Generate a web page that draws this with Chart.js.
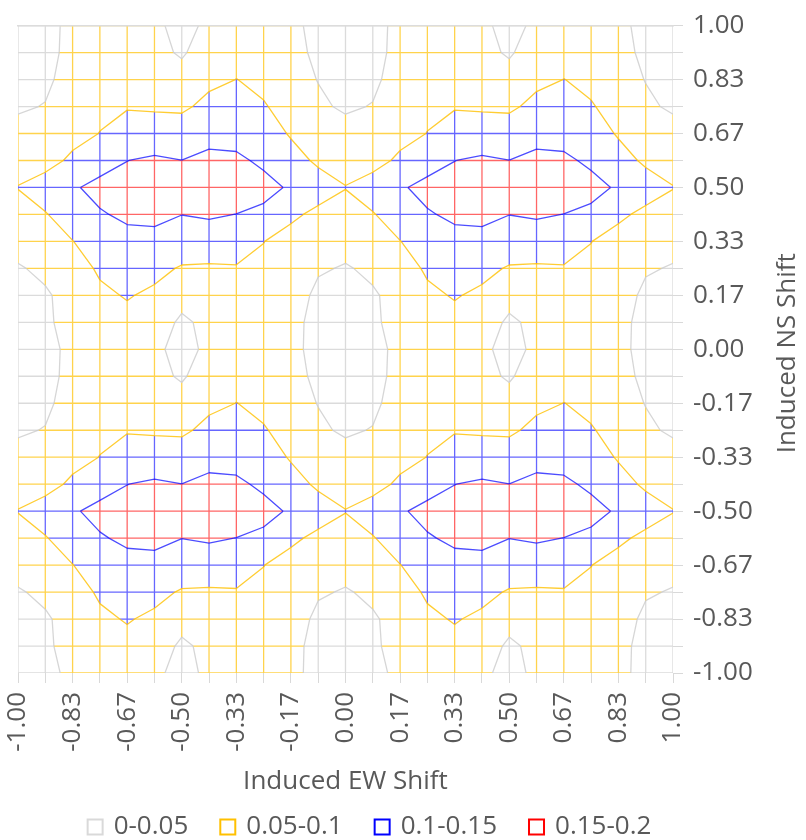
<!DOCTYPE html>
<html>
<head>
<meta charset="utf-8">
<script src="https://cdn.jsdelivr.net/npm/chart.js@4.4.1/dist/chart.umd.min.js"></script>
<style>
  html, body { margin: 0; padding: 0; background: #fff; }
  #wrap { width: 806px; height: 840px; }
</style>
</head>
<body>
<div id="wrap"><canvas id="contour" width="806" height="840"></canvas></div>
<script>
/* ── Data ── */
// EW shift (x), one value per grid column
const ewShift = [-1, -0.9167, -0.8333, -0.75, -0.6667, -0.5833, -0.5, -0.4167, -0.3333, -0.25, -0.1667, -0.0833,
    0, 0.0833, 0.1667, 0.25, 0.3333, 0.4167, 0.5, 0.5833, 0.6667, 0.75, 0.8333, 0.9167, 1];
// NS shift (y), one value per grid row, top row first
const nsShift = [1, 0.9167, 0.8333, 0.75, 0.6667, 0.5833, 0.5, 0.4167, 0.3333, 0.25, 0.1667, 0.0833,
    0, -0.0833, -0.1667, -0.25, -0.3333, -0.4167, -0.5, -0.5833, -0.6667, -0.75, -0.8333, -0.9167, -1];

const ewLabels = ['-1.00', '-0.83', '-0.67', '-0.50', '-0.33', '-0.17', '0.00', '0.17', '0.33', '0.50', '0.67', '0.83', '1.00'];
const nsLabels = ['-1.00', '-0.83', '-0.67', '-0.50', '-0.33', '-0.17', '0.00', '0.17', '0.33', '0.50', '0.67', '0.83', '1.00'];

const bandLimits = [0.05, 0.1, 0.15];
const bandLabels = ['0-0.05', '0.05-0.1', '0.1-0.15', '0.15-0.2'];

// surface values, rows follow nsShift, columns follow ewShift
const shiftGrid = [
    [0.020,0.038,0.060,0.068,0.064,0.055,0.042,0.055,0.064,0.068,0.060,0.038,0.020,0.038,0.060,0.068,0.064,0.055,0.042,0.055,0.064,0.068,0.060,0.038,0.020],
    [0.025,0.0375,0.062,0.070,0.066,0.057,0.047,0.063,0.086,0.075,0.060,0.0436,0.025,0.0375,0.062,0.070,0.066,0.057,0.047,0.063,0.086,0.075,0.060,0.0436,0.025],
    [0.035,0.0406,0.070,0.080,0.078,0.070,0.060,0.088,0.1005,0.092,0.066,0.0488,0.035,0.0406,0.070,0.080,0.078,0.070,0.060,0.088,0.1005,0.092,0.066,0.0488,0.035],
    [0.044,0.052,0.076,0.090,0.096,0.095,0.090,0.115,0.120,0.1025,0.0878,0.0568,0.044,0.052,0.076,0.090,0.096,0.095,0.090,0.115,0.120,0.1025,0.0878,0.0568,0.044],
    [0.065,0.070,0.083,0.101,0.126,0.120,0.130,0.135,0.138,0.125,0.0952,0.078,0.065,0.070,0.083,0.101,0.126,0.120,0.130,0.135,0.138,0.125,0.0952,0.078,0.065],
    [0.087,0.0806,0.110,0.135,0.1495,0.157,0.1503,0.161,0.156,0.144,0.120,0.0914,0.087,0.0806,0.110,0.135,0.1495,0.157,0.1503,0.161,0.156,0.144,0.120,0.0914,0.087],
    [0.101,0.125,0.146,0.160,0.165,0.170,0.175,0.172,0.166,0.160,0.146,0.1245,0.101,0.125,0.146,0.160,0.165,0.170,0.175,0.172,0.166,0.160,0.146,0.1245,0.101],
    [0.087,0.097,0.125,0.147,0.156,0.157,0.1505,0.153,0.1497,0.143,0.110,0.088,0.087,0.097,0.125,0.147,0.156,0.157,0.1505,0.153,0.1497,0.143,0.110,0.088,0.087],
    [0.063,0.078,0.099,0.125,0.140,0.1415,0.128,0.137,0.126,0.1008,0.081,0.070,0.063,0.078,0.099,0.125,0.140,0.1415,0.128,0.137,0.126,0.1008,0.081,0.070,0.063],
    [0.047,0.057,0.081,0.106,0.120,0.112,0.096,0.092,0.096,0.090,0.076,0.0542,0.047,0.057,0.081,0.106,0.120,0.112,0.096,0.092,0.096,0.090,0.076,0.0542,0.047],
    [0.035,0.046,0.062,0.092,0.103,0.092,0.060,0.070,0.078,0.080,0.070,0.041,0.035,0.046,0.062,0.092,0.103,0.092,0.060,0.070,0.078,0.080,0.070,0.041,0.035],
    [0.025,0.044,0.063,0.075,0.088,0.065,0.045,0.057,0.066,0.070,0.062,0.037,0.025,0.044,0.063,0.075,0.088,0.065,0.045,0.057,0.066,0.070,0.062,0.037,0.025],
    [0.020,0.038,0.060,0.068,0.064,0.055,0.042,0.055,0.064,0.068,0.060,0.038,0.020,0.038,0.060,0.068,0.064,0.055,0.042,0.055,0.064,0.068,0.060,0.038,0.020],
    [0.025,0.0375,0.062,0.070,0.066,0.057,0.047,0.063,0.086,0.075,0.060,0.0436,0.025,0.0375,0.062,0.070,0.066,0.057,0.047,0.063,0.086,0.075,0.060,0.0436,0.025],
    [0.035,0.0406,0.070,0.080,0.078,0.070,0.060,0.088,0.1005,0.092,0.066,0.0488,0.035,0.0406,0.070,0.080,0.078,0.070,0.060,0.088,0.1005,0.092,0.066,0.0488,0.035],
    [0.044,0.052,0.076,0.090,0.096,0.095,0.090,0.115,0.120,0.1025,0.0878,0.0568,0.044,0.052,0.076,0.090,0.096,0.095,0.090,0.115,0.120,0.1025,0.0878,0.0568,0.044],
    [0.065,0.070,0.083,0.101,0.126,0.120,0.130,0.135,0.138,0.125,0.0952,0.078,0.065,0.070,0.083,0.101,0.126,0.120,0.130,0.135,0.138,0.125,0.0952,0.078,0.065],
    [0.087,0.0806,0.110,0.135,0.1495,0.157,0.1503,0.161,0.156,0.144,0.120,0.0914,0.087,0.0806,0.110,0.135,0.1495,0.157,0.1503,0.161,0.156,0.144,0.120,0.0914,0.087],
    [0.101,0.125,0.146,0.160,0.165,0.170,0.175,0.172,0.166,0.160,0.146,0.1245,0.101,0.125,0.146,0.160,0.165,0.170,0.175,0.172,0.166,0.160,0.146,0.1245,0.101],
    [0.087,0.097,0.125,0.147,0.156,0.157,0.1505,0.153,0.1497,0.143,0.110,0.088,0.087,0.097,0.125,0.147,0.156,0.157,0.1505,0.153,0.1497,0.143,0.110,0.088,0.087],
    [0.063,0.078,0.099,0.125,0.140,0.1415,0.128,0.137,0.126,0.1008,0.081,0.070,0.063,0.078,0.099,0.125,0.140,0.1415,0.128,0.137,0.126,0.1008,0.081,0.070,0.063],
    [0.047,0.057,0.081,0.106,0.120,0.112,0.096,0.092,0.096,0.090,0.076,0.0542,0.047,0.057,0.081,0.106,0.120,0.112,0.096,0.092,0.096,0.090,0.076,0.0542,0.047],
    [0.035,0.046,0.062,0.092,0.103,0.092,0.060,0.070,0.078,0.080,0.070,0.041,0.035,0.046,0.062,0.092,0.103,0.092,0.060,0.070,0.078,0.080,0.070,0.041,0.035],
    [0.025,0.044,0.063,0.075,0.088,0.065,0.045,0.057,0.066,0.070,0.062,0.037,0.025,0.044,0.063,0.075,0.088,0.065,0.045,0.057,0.066,0.070,0.062,0.037,0.025],
    [0.020,0.038,0.060,0.068,0.064,0.055,0.042,0.055,0.064,0.068,0.060,0.038,0.020,0.038,0.060,0.068,0.064,0.055,0.042,0.055,0.064,0.068,0.060,0.038,0.020]
];

/* ── Styles ── */
const FONT = '"Open Sans", "Noto Sans", sans-serif';
const TEXT = '#595959';
const bandColors = ['#d9d9d9', '#ffc000', '#0000ff', '#ff0000'];
const wireColors = ['rgba(200,200,200,0.65)', 'rgba(255,192,0,0.7)', 'rgba(0,0,255,0.6)', 'rgba(255,0,0,0.6)'];
const lineColors = ['rgba(200,200,200,0.75)', 'rgba(255,192,0,0.8)', 'rgba(0,0,255,0.7)'];

/* ── Build wireframe + contour segments ── */
const bandOf = v => v < bandLimits[0] ? 0 : v < bandLimits[1] ? 1 : v < bandLimits[2] ? 2 : 3;
const gap = { x: null, y: null };
const wire = [[], [], [], []];
const contours = [[], [], []];

// split one grid edge at the band limits and colour each piece
const addEdge = (x1, y1, v1, x2, y2, v2) => {
    const cuts = [0, 1];
    bandLimits.forEach(t => {
        if ((v1 - t) * (v2 - t) < 0) cuts.push((t - v1) / (v2 - v1));
    });
    cuts.sort((a, b) => a - b);
    for (let k = 0; k < cuts.length - 1; k++) {
        const a = cuts[k], b = cuts[k + 1];
        const band = bandOf(v1 + (v2 - v1) * (a + b) / 2);
        wire[band].push(
            { x: x1 + (x2 - x1) * a, y: y1 + (y2 - y1) * a },
            { x: x1 + (x2 - x1) * b, y: y1 + (y2 - y1) * b },
            gap
        );
    }
};

for (let r = 0; r < nsShift.length; r++) {
    for (let c = 0; c < ewShift.length; c++) {
        const v = shiftGrid[r][c];
        if (c + 1 < ewShift.length) addEdge(ewShift[c], nsShift[r], v, ewShift[c + 1], nsShift[r], shiftGrid[r][c + 1]);
        if (r + 1 < nsShift.length) addEdge(ewShift[c], nsShift[r], v, ewShift[c], nsShift[r + 1], shiftGrid[r + 1][c]);
    }
}

// marching squares for each band limit
for (let r = 0; r < nsShift.length - 1; r++) {
    for (let c = 0; c < ewShift.length - 1; c++) {
        const corners = [
            { x: ewShift[c], y: nsShift[r], v: shiftGrid[r][c] },
            { x: ewShift[c + 1], y: nsShift[r], v: shiftGrid[r][c + 1] },
            { x: ewShift[c + 1], y: nsShift[r + 1], v: shiftGrid[r + 1][c + 1] },
            { x: ewShift[c], y: nsShift[r + 1], v: shiftGrid[r + 1][c] }
        ];
        bandLimits.forEach((t, li) => {
            const pts = [];
            for (let e = 0; e < 4; e++) {
                const p = corners[e], q = corners[(e + 1) % 4];
                if ((p.v > t) !== (q.v > t)) {
                    const f = (t - p.v) / (q.v - p.v);
                    pts.push({ x: p.x + (q.x - p.x) * f, y: p.y + (q.y - p.y) * f });
                } else {
                    pts.push(null);
                }
            }
            const hit = pts.filter(Boolean);
            if (hit.length === 2) {
                contours[li].push({ x: hit[0].x, y: hit[0].y }, { x: hit[1].x, y: hit[1].y }, gap);
            } else if (hit.length === 4) {
                const mid = corners.reduce((s, k) => s + k.v, 0) / 4;
                const pairs = (mid > t) === (corners[0].v > t) ? [[0, 1], [2, 3]] : [[3, 0], [1, 2]];
                pairs.forEach(([a, b]) => {
                    contours[li].push({ x: pts[a].x, y: pts[a].y }, { x: pts[b].x, y: pts[b].y }, gap);
                });
            }
        });
    }
}

// borderDash keeps Chart.js off its fast path, so vertical pieces are stroked once
const lineSet = (data, color, width) => ({
    data,
    showLine: true,
    borderColor: color,
    borderWidth: width,
    borderDash: [2000, 0],
    pointRadius: 0,
    tension: 0,
    spanGaps: false,
    fill: false
});

const datasets = [
    ...contours.map((d, i) => lineSet(d, lineColors[i], 1.3)),
    ...wire.map((d, i) => lineSet(d, wireColors[i], 1.3))
];

/* ── Side title + legend ── */
const extras = {
    id: 'extras',
    afterDraw(chart) {
        const { ctx, chartArea } = chart;
        ctx.save();
        ctx.fillStyle = TEXT;
        ctx.font = `26px ${FONT}`;
        ctx.textBaseline = 'middle';

        // NS title reads bottom to top
        ctx.save();
        ctx.translate(788, (chartArea.top + chartArea.bottom) / 2 + 4);
        ctx.rotate(-Math.PI / 2);
        ctx.textAlign = 'center';
        ctx.fillText('Induced NS Shift', 0, 0);
        ctx.restore();

        // legend with outline boxes
        const box = 17, boxGap = 10, itemGap = 31, cy = 827;
        const widths = bandLabels.map(l => box + boxGap + ctx.measureText(l).width);
        const total = widths.reduce((a, b) => a + b, 0) + itemGap * (widths.length - 1);
        let x = 369 - total / 2;
        ctx.textAlign = 'left';
        ctx.lineWidth = 2;
        bandLabels.forEach((label, i) => {
            ctx.strokeStyle = bandColors[i];
            ctx.strokeRect(x + 1, cy - box / 2 + 1, box - 2, box - 2);
            ctx.fillText(label, x + box + boxGap, cy);
            x += widths[i] + itemGap;
        });
        ctx.restore();
    }
};

const gridTicks = values => scale => {
    scale.ticks = [...values].sort((a, b) => a - b).map(v => ({ value: v }));
};

new Chart(document.getElementById('contour'), {
    type: 'scatter',
    data: { datasets },
    options: {
        responsive: false,
        devicePixelRatio: 1,
        animation: false,
        events: [],
        layout: { padding: { left: 18, top: 18, right: 0, bottom: 43 } },
        plugins: { legend: { display: false }, tooltip: { enabled: false } },
        scales: {
            x: {
                type: 'linear', position: 'bottom', min: -1, max: 1,
                afterBuildTicks: gridTicks(ewShift),
                afterFit: s => { s.height = 124; },
                ticks: {
                    autoSkip: false, minRotation: 90, maxRotation: 90, padding: 9,
                    color: TEXT, font: { family: FONT, size: 26 },
                    callback: (v, i) => i % 2 === 0 ? ewLabels[i / 2] : ''
                },
                grid: { drawOnChartArea: false, drawTicks: true, tickLength: 10, color: '#d9d9d9' },
                border: { display: false },
                title: { display: true, text: 'Induced EW Shift', color: TEXT, font: { family: FONT, size: 26 }, padding: 0 }
            },
            xTop: {
                type: 'linear', position: 'top', min: -1, max: 1,
                afterFit: s => { s.height = 0; },
                ticks: { display: false },
                grid: { display: false, drawTicks: false },
                border: { display: true, color: '#dcdcdc', width: 1.5, z: 1 }
            },
            y: {
                type: 'linear', position: 'right', min: -1, max: 1,
                afterBuildTicks: gridTicks(nsShift),
                afterFit: s => { s.width = 133; },
                ticks: {
                    autoSkip: false, padding: 10,
                    color: TEXT, font: { family: FONT, size: 26 },
                    callback: (v, i) => i % 2 === 0 ? nsLabels[i / 2] : ''
                },
                grid: { drawOnChartArea: false, drawTicks: true, tickLength: 10, color: '#d9d9d9' },
                border: { display: false }
            }
        }
    },
    plugins: [extras]
});
</script>
</body>
</html>
